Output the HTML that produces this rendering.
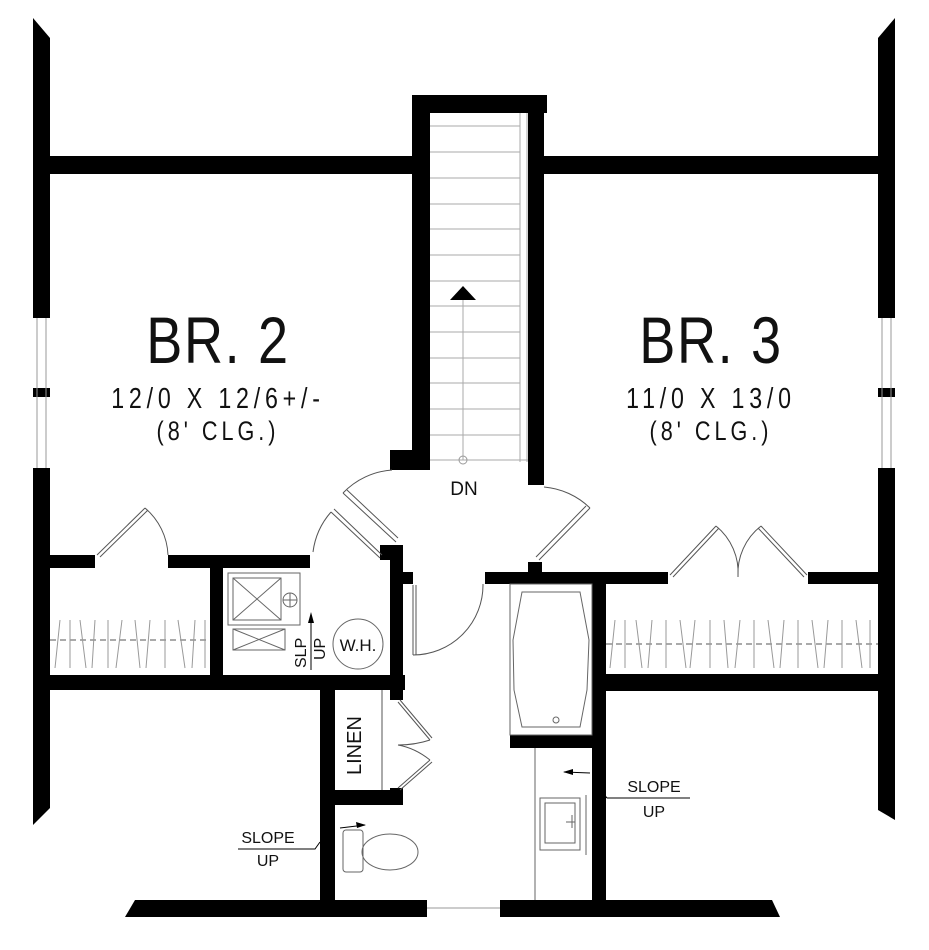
<!DOCTYPE html>
<html><head><meta charset="utf-8"><style>
html,body{margin:0;padding:0;background:#fff;}
svg{display:block;}
text{font-family:"Liberation Sans",sans-serif;fill:#111;}
</style></head><body>
<svg width="929" height="950" viewBox="0 0 929 950" xmlns="http://www.w3.org/2000/svg">
<g fill="#000">
<polygon points="33,18 50,38 50,318 33,318"/>
<rect x="33" y="388" width="17" height="9"/>
<polygon points="33,468 50,468 50,808 33,825"/>
<polygon points="878,38 895,18 895,318 878,318"/>
<rect x="878" y="388" width="17" height="9"/>
<polygon points="878,468 895,468 895,820 878,810"/>
<rect x="33" y="156" width="397" height="18"/>
<rect x="528" y="156" width="367" height="18"/>
<rect x="412" y="95" width="135" height="18"/>
<rect x="412" y="95" width="18" height="375"/>
<rect x="528" y="95" width="16" height="390"/>
<rect x="390" y="450" width="22" height="20"/>
<rect x="390" y="460" width="12" height="10"/>
<rect x="33" y="555" width="62" height="13"/>
<rect x="168" y="555" width="142" height="13"/>
<rect x="33" y="675" width="372" height="15"/>
<rect x="210" y="568" width="13" height="107"/>
<rect x="390" y="545" width="13" height="155"/>
<rect x="380" y="545" width="23" height="15"/>
<rect x="403" y="572" width="10" height="12"/>
<rect x="320" y="690" width="15" height="210"/>
<rect x="335" y="790" width="68" height="15"/>
<rect x="390" y="788" width="13" height="17"/>
<polygon points="135,900 427,900 427,917 125,917"/>
<polygon points="500,900 772,900 780,917 500,917"/>
<rect x="485" y="572" width="183" height="12"/>
<rect x="528" y="562" width="14" height="12"/>
<rect x="808" y="572" width="87" height="12"/>
<rect x="592" y="584" width="14" height="316"/>
<rect x="606" y="674" width="289" height="17"/>
<rect x="510" y="735" width="96" height="13"/>
</g>
<g stroke="#999" stroke-width="1" fill="none">
<line x1="37" y1="318" x2="37" y2="468"/><line x1="46" y1="318" x2="46" y2="468"/>
<line x1="882" y1="318" x2="882" y2="468"/><line x1="891" y1="318" x2="891" y2="468"/>
<line x1="427" y1="908" x2="500" y2="908"/>
</g>
<g stroke="#aaa" stroke-width="1">
<line x1="430" y1="126" x2="520" y2="126"/><line x1="430" y1="152" x2="520" y2="152"/>
<line x1="430" y1="178" x2="520" y2="178"/><line x1="430" y1="204" x2="520" y2="204"/>
<line x1="430" y1="229" x2="520" y2="229"/><line x1="430" y1="255" x2="520" y2="255"/>
<line x1="430" y1="281" x2="520" y2="281"/><line x1="430" y1="306" x2="520" y2="306"/>
<line x1="430" y1="332" x2="520" y2="332"/><line x1="430" y1="358" x2="520" y2="358"/>
<line x1="430" y1="383" x2="520" y2="383"/><line x1="430" y1="409" x2="520" y2="409"/>
<line x1="430" y1="435" x2="520" y2="435"/><line x1="430" y1="460" x2="528" y2="460"/>
<line x1="520" y1="113" x2="520" y2="462"/><line x1="527" y1="113" x2="527" y2="462"/>
<line x1="463" y1="300" x2="463" y2="460"/>
</g>
<polygon points="463,286 450,300 476,300" fill="#000"/>
<circle cx="463" cy="460" r="4" fill="none" stroke="#999"/>
<g stroke="#555" stroke-width="1" fill="none">
<path d="M343,493 A75,75 0 0 1 392,470"/>
<path d="M343,493 L396,542 M347,490 L398,538"/>
<path d="M313,552 A75,75 0 0 1 331,512"/>
<path d="M331,512 L380,558 M334,509 L382,555"/>
<path d="M544,487 A75,75 0 0 1 590,508"/>
<path d="M590,508 L539,560 M586,506 L536,557"/>
<path d="M483,584 A70,70 0 0 1 413,655"/>
<line x1="413" y1="585" x2="413" y2="655"/><line x1="416" y1="585" x2="416" y2="655"/>
<path d="M97,555 L145,508 M100,557 L148,510"/>
<path d="M145,508 A65,65 0 0 1 168,555"/>
<path d="M670,575 L716,526 M673,577 L719,528"/>
<path d="M716,526 A60,60 0 0 1 738,577"/>
<path d="M807,575 L761,526 M804,577 L758,528"/>
<path d="M761,526 A60,60 0 0 0 738,577"/>
<path d="M398,702 L430,740 M400,700 L432,738"/>
<path d="M398,788 L430,760 M400,790 L432,762"/>
<path d="M430,740 Q415,745 398,745 M430,760 Q415,748 398,745"/>
<line x1="382" y1="690" x2="382" y2="790"/>
<line x1="50" y1="640" x2="210" y2="640" stroke-dasharray="6,4"/>
<line x1="606" y1="644" x2="878" y2="644" stroke-dasharray="6,4"/>
</g>
<g stroke="#999" stroke-width="1">
<path d="M60,620 L55,668 M70,620 L70,668 M80,620 L86,668 M95,620 L92,668 M108,620 L108,668 M122,620 L116,668 M135,620 L140,668 M150,620 L146,668 M165,620 L165,668 M178,620 L185,668 M195,620 L192,668 M205,620 L205,668"/>
<path d="M615,620 L610,668 M625,620 L625,668 M636,620 L642,668 M652,620 L648,668 M666,620 L666,668 M680,620 L686,668 M695,620 L690,668 M710,620 L710,668 M724,620 L728,668 M740,620 L735,668 M754,620 L754,668 M768,620 L774,668 M784,620 L780,668 M798,620 L798,668 M812,620 L818,668 M828,620 L824,668 M842,620 L842,668 M856,620 L862,668 M870,620 L870,668"/>
</g>
<g stroke="#666" stroke-width="1" fill="none">
<rect x="228" y="573" width="72" height="52"/>
<rect x="233" y="578" width="48" height="42"/>
<path d="M233,578 L281,620 M281,578 L233,620"/>
<circle cx="290" cy="600" r="7"/><path d="M283,600 H297 M290,593 V607"/>
<rect x="233" y="629" width="52" height="21"/>
<path d="M233,629 L285,650 M285,629 L233,650"/>
<circle cx="358" cy="644" r="25"/>
<line x1="311" y1="615" x2="311" y2="670" stroke="#000"/>
<rect x="510" y="584" width="82" height="151"/>
<path d="M522,592 L580,592 L589,640 L587,690 L580,727 L522,727 L514,690 L513,640 Z"/>
<circle cx="556" cy="720" r="3"/>
<line x1="535" y1="748" x2="535" y2="900"/>
<rect x="540" y="798" width="40" height="52"/>
<rect x="545" y="803" width="30" height="40"/>
<path d="M566,822 H575 M572,815 V828"/>
<line x1="586" y1="795" x2="586" y2="855"/>
<rect x="343" y="830" width="20" height="42" rx="3"/>
<ellipse cx="390" cy="852" rx="28" ry="18"/>
<path d="M238,849 H315 L320,842" stroke="#000"/>
<path d="M340,828 L365,825" stroke="#000"/>
<path d="M607,798 H690" stroke="#000"/>
<path d="M607,798 L600,790" stroke="#000"/>
<path d="M564,772 L590,773" stroke="#000"/>
</g>
<polygon points="311,612 308,623 314,623" fill="#000"/>
<polygon points="366,825 356,822 357,828" fill="#000"/>
<polygon points="563,772 573,769 573,775" fill="#000"/>
<text x="218" y="363" font-size="66" text-anchor="middle" letter-spacing="2" transform="translate(218 0) scale(0.82 1) translate(-218 0)">BR. 2</text>
<text x="711" y="363" font-size="66" text-anchor="middle" letter-spacing="2" transform="translate(711 0) scale(0.82 1) translate(-711 0)">BR. 3</text>
<text x="218" y="408" font-size="29" text-anchor="middle" letter-spacing="6" transform="translate(218 0) scale(0.8 1) translate(-218 0)">12/0 X 12/6+/-</text>
<text x="218" y="440" font-size="27" text-anchor="middle" letter-spacing="5" transform="translate(218 0) scale(0.8 1) translate(-218 0)">(8' CLG.)</text>
<text x="711" y="408" font-size="29" text-anchor="middle" letter-spacing="6" transform="translate(711 0) scale(0.8 1) translate(-711 0)">11/0 X 13/0</text>
<text x="711" y="440" font-size="27" text-anchor="middle" letter-spacing="5" transform="translate(711 0) scale(0.8 1) translate(-711 0)">(8' CLG.)</text>
<text x="464" y="495" font-size="19" text-anchor="middle">DN</text>
<text x="358" y="651" font-size="17" text-anchor="middle">W.H.</text>
<text transform="translate(306 668) rotate(-90)" font-size="16">SLP</text>
<text transform="translate(325 660) rotate(-90)" font-size="16">UP</text>
<text transform="translate(361 775) rotate(-90)" font-size="20">LINEN</text>
<text x="268" y="843" font-size="16" text-anchor="middle">SLOPE</text>
<text x="268" y="866" font-size="16" text-anchor="middle">UP</text>
<text x="654" y="792" font-size="16" text-anchor="middle">SLOPE</text>
<text x="654" y="817" font-size="16" text-anchor="middle">UP</text>
</svg>
</body></html>
